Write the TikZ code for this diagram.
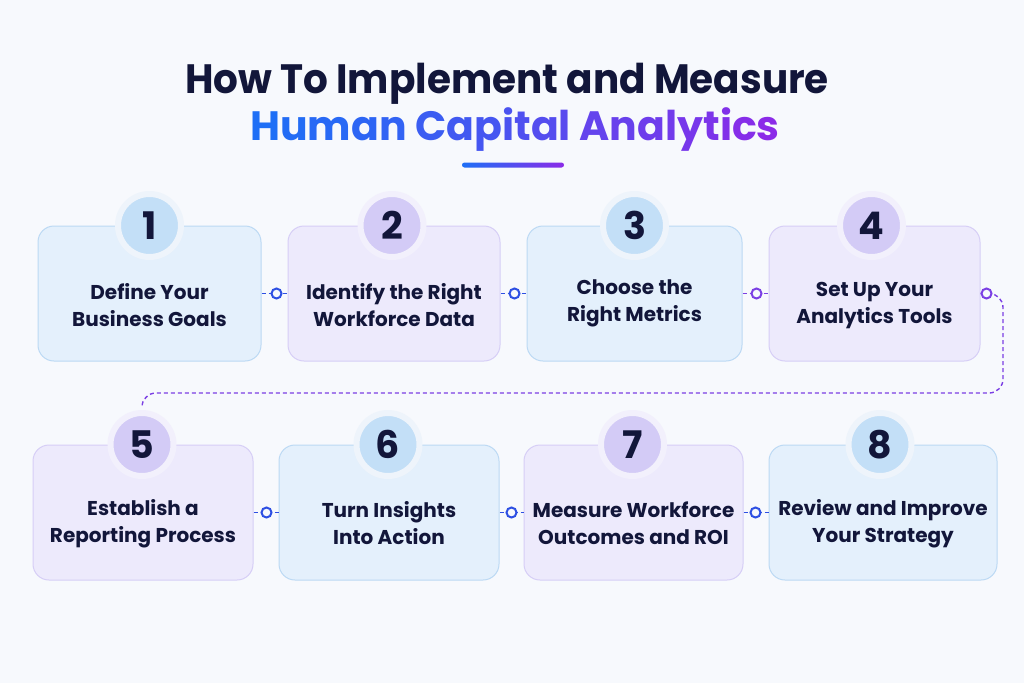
\documentclass[tikz,border=0pt]{standalone}
\usepackage{fontspec}
\setmainfont{Poppins}
\usetikzlibrary{calc}
\definecolor{bg}{HTML}{F7F9FD}
\definecolor{navy}{HTML}{12163A}
\definecolor{tblue}{HTML}{1E6FF6}
\definecolor{tpurple}{HTML}{8B2BE8}
\definecolor{bfill}{HTML}{E4F0FC}
\definecolor{bline}{HTML}{BCD9F4}
\definecolor{pfill}{HTML}{EDEAFC}
\definecolor{pline}{HTML}{D6CEF6}
\definecolor{bdisk}{HTML}{C3DFF7}
\definecolor{pdisk}{HTML}{D3CBF6}
\definecolor{bring}{HTML}{EEF4FB}
\definecolor{pring}{HTML}{F2F0FC}
\definecolor{cblue}{HTML}{2D4FE3}
\definecolor{cpurple}{HTML}{7B3FE4}
\newcommand\gc[2]{\textcolor{tpurple!#1!tblue}{#2}}
\tikzset{
  stepbox/.style={draw, line width=1pt, rounded corners=16pt, minimum height=135pt, inner sep=0pt},
  bluebox/.style={stepbox, fill=bfill, draw=bline},
  purplebox/.style={stepbox, fill=pfill, draw=pline},
  numdisk/.style={circle, minimum size=63pt, inner sep=0pt, text=navy,
    font=\fontsize{38}{38}\selectfont\bfseries},
  bluenum/.style={numdisk, fill=bdisk, draw=bring, line width=6pt},
  purplenum/.style={numdisk, fill=pdisk, draw=pring, line width=6pt},
  steptext/.style={align=center, text=navy, font=\fontsize{20}{27}\selectfont\bfseries, inner sep=0pt},
  conn/.style={line width=1.4pt, dash pattern=on 4pt off 3pt},
  dotc/.style={circle, minimum size=10pt, inner sep=0pt, line width=2pt, fill=bg, draw},
}
\begin{document}
\begin{tikzpicture}[x=1pt,y=-1pt]
\fill[bg] (0,0) rectangle (1024,683);
\useasboundingbox (0,0) rectangle (1024,683);

% title
\node[anchor=base, text=navy, font=\fontsize{41}{41}\selectfont\bfseries, inner sep=0pt] (t1) at (507,93) {\scalebox{0.95}[1]{How To Implement and Measure}};
\node[anchor=base, font=\fontsize{41}{41}\selectfont\bfseries, inner sep=0pt] (t2) at (515,140)
 {\gc{0}{H}\gc{5}{u}\gc{9}{m}\gc{14}{a}\gc{18}{n} \gc{27}{C}\gc{32}{a}\gc{36}{p}\gc{41}{i}\gc{45}{t}\gc{50}{a}\gc{55}{l} \gc{64}{A}\gc{68}{n}\gc{73}{a}\gc{77}{l}\gc{82}{y}\gc{86}{t}\gc{91}{i}\gc{95}{c}\gc{100}{s}};
\shade[left color=tblue, right color=tpurple, rounded corners=2.5pt] (462,162.5) rectangle (564,167.5);

% boxes row 1
\node[bluebox, minimum width=223pt] (b1) at (149.5,293.5) {};
\node[purplebox, minimum width=212pt] (b2) at (394,293.5) {};
\node[bluebox, minimum width=215pt] (b3) at (634.5,293.5) {};
\node[purplebox, minimum width=211pt] (b4) at (874.5,293.5) {};
% boxes row 2
\node[purplebox, minimum width=220pt] (b5) at (143,512.5) {};
\node[bluebox, minimum width=220pt] (b6) at (389,512.5) {};
\node[purplebox, minimum width=219pt] (b7) at (633.5,512.5) {};
\node[bluebox, minimum width=228pt] (b8) at (883,512.5) {};

% connectors
\coordinate (k12) at ($(b2.west)+(-11,0)$);
\coordinate (k23) at ($(b3.west)+(-12,0)$);
\coordinate (k34) at ($(b4.west)+(-12,0)$);
\coordinate (k4) at ($(b4.east)+(6,0)$);
\coordinate (kr) at (1003,293.5);
\coordinate (kb) at (1003,393);
\coordinate (kl) at (142,393);
\coordinate (k56) at ($(b6.west)+(-12,0)$);
\coordinate (k67) at ($(b7.west)+(-12,0)$);
\coordinate (k78) at ($(b8.west)+(-13,0)$);

\draw[conn, cblue] (b1.east) -- (b2.west);
\draw[conn, cblue] (b2.east) -- (b3.west);
\draw[conn, cpurple] (b3.east) -- (b4.west);
\draw[conn, cpurple, rounded corners=14pt] (b4.east) -- (kr) -- (kb) -- (kl) -- ++(0,14);
\draw[conn, cblue] (b5.east) -- (b6.west);
\draw[conn, cblue] (b6.east) -- (b7.west);
\draw[conn, cblue] (b7.east) -- (b8.west);

\node[dotc, draw=cblue] (d12) at (k12) {};
\node[dotc, draw=cblue] (d23) at (k23) {};
\node[dotc, draw=cpurple] (d34) at (k34) {};
\node[dotc, draw=cpurple] (d4) at (k4) {};
\node[dotc, draw=cblue] (d56) at (k56) {};
\node[dotc, draw=cblue] (d67) at (k67) {};
\node[dotc, draw=cblue] (d78) at (k78) {};

% number disks
\node[bluenum] (n1) at (b1.north) {1};
\node[purplenum] (n2) at ($(b2.north)+(-2,0)$) {2};
\node[bluenum] (n3) at (b3.north) {3};
\node[purplenum] (n4) at ($(b4.north)+(-3,0)$) {4};
\node[purplenum] (n5) at ($(b5.north)+(-1,0)$) {5};
\node[bluenum] (n6) at ($(b6.north)+(-1,0)$) {6};
\node[purplenum] (n7) at ($(b7.north)+(-1,0)$) {7};
\node[bluenum] (n8) at ($(b8.north)+(-3,0)$) {8};

% texts
\node[steptext] (s1) at ($(b1.center)+(0,12)$) {Define Your\\Business Goals};
\node[steptext] (s2) at ($(b2.center)+(0,12)$) {Identify the Right\\Workforce Data};
\node[steptext] (s3) at ($(b3.center)+(0,10)$) {Choose the\\Right Metrics};
\node[steptext] (s4) at ($(b4.center)+(0,12)$) {Set Up Your\\Analytics Tools};
\node[steptext] (s5) at ($(b5.center)+(0,11)$) {Establish a\\Reporting Process};
\node[steptext] (s6) at ($(b6.center)+(0,11)$) {Turn Insights\\Into Action};
\node[steptext] (s7) at ($(b7.center)+(0,11)$) {Measure Workforce\\Outcomes and ROI};
\node[steptext] (s8) at ($(b8.center)+(0,11)$) {Review and Improve\\Your Strategy};
\end{tikzpicture}
\end{document}
